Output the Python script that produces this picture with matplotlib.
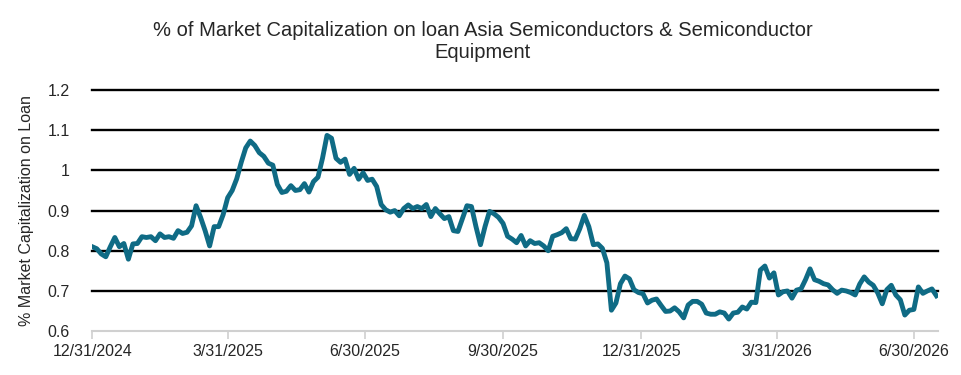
import numpy as np
import pandas as pd
import matplotlib
matplotlib.use("Agg")
import matplotlib.pyplot as plt
import matplotlib.dates as mdates

plt.rcParams['font.family'] = ['Liberation Sans Narrow', 'Liberation Sans', 'DejaVu Sans']

# values, one every 3 days from 12/31/2024
dates = pd.date_range('2024-12-31', periods=188, freq='3D')
values = [
    0.810, 0.805, 0.792, 0.785, 0.810, 0.833, 0.810, 0.818, 0.779, 0.817,
    0.818, 0.835, 0.833, 0.835, 0.825, 0.842, 0.833, 0.835, 0.831, 0.850,
    0.843, 0.846, 0.862, 0.912, 0.883, 0.850, 0.812, 0.860, 0.860, 0.890,
    0.932, 0.950, 0.979, 1.020, 1.056, 1.073, 1.062, 1.044, 1.035, 1.018,
    1.013, 0.965, 0.945, 0.948, 0.962, 0.950, 0.952, 0.967, 0.946, 0.972,
    0.983, 1.030, 1.087, 1.080, 1.030, 1.020, 1.028, 0.990, 1.005, 0.978,
    0.994, 0.975, 0.978, 0.960, 0.915, 0.902, 0.896, 0.900, 0.887, 0.905,
    0.914, 0.905, 0.910, 0.905, 0.915, 0.885, 0.905, 0.892, 0.880, 0.885,
    0.850, 0.848, 0.880, 0.912, 0.910, 0.860, 0.815, 0.860, 0.898, 0.892,
    0.883, 0.868, 0.836, 0.829, 0.820, 0.838, 0.812, 0.825, 0.818, 0.820,
    0.812, 0.800, 0.836, 0.840, 0.845, 0.855, 0.830, 0.829, 0.855, 0.888,
    0.860, 0.815, 0.817, 0.806, 0.770, 0.652, 0.670, 0.718, 0.737, 0.730,
    0.703, 0.696, 0.693, 0.670, 0.677, 0.680, 0.664, 0.649, 0.650, 0.658,
    0.648, 0.633, 0.665, 0.674, 0.674, 0.667, 0.645, 0.642, 0.642, 0.648,
    0.645, 0.630, 0.645, 0.647, 0.660, 0.655, 0.672, 0.671, 0.752, 0.762,
    0.732, 0.745, 0.690, 0.698, 0.700, 0.682, 0.702, 0.705, 0.728, 0.755,
    0.728, 0.724, 0.718, 0.715, 0.703, 0.694, 0.702, 0.700, 0.696, 0.690,
    0.717, 0.735, 0.722, 0.714, 0.695, 0.668, 0.703, 0.714, 0.690, 0.678,
    0.640, 0.652, 0.654, 0.710, 0.694, 0.700, 0.705, 0.688,
]
tick_dates = pd.to_datetime(['2024-12-31', '2025-03-31', '2025-06-30', '2025-09-30',
                             '2025-12-31', '2026-03-31', '2026-06-30'])
yticks = [0.6, 0.7, 0.8, 0.9, 1.0, 1.1, 1.2]
ytick_labels = ['0.6', '0.7', '0.8', '0.9', '1', '1.1', '1.2']

title = "% of Market Capitalization on loan Asia Semiconductors & Semiconductor\nEquipment"
ylabel = "% Market Capitalization on Loan"

txt = '#262626'
fig = plt.figure(figsize=(9.61, 3.75), dpi=100)
ax = fig.add_axes([0.096, 0.117, 0.880, 0.643])

ax.plot(dates, values, color='#0f6b85', lw=3.5, solid_joinstyle='round', zorder=3)

ax.set_xlim(pd.Timestamp('2024-12-31'), pd.Timestamp('2026-07-16'))
ax.set_ylim(0.6, 1.2)
ax.set_yticks(yticks)
ax.set_yticklabels(ytick_labels)
ax.set_xticks(tick_dates)
ax.set_xticklabels([d.strftime('%-m/%-d/%Y') for d in tick_dates])

# black gridlines, top one drawn past the axes edge so it is not clipped
for y in yticks[1:]:
    ax.axhline(y, color='black', lw=1.7, zorder=1, clip_on=False)

for s in ['left', 'right', 'top']:
    ax.spines[s].set_visible(False)
ax.spines['bottom'].set_color('#d0d0d0')
ax.spines['bottom'].set_linewidth(1.5)
ax.tick_params(axis='x', length=6, width=1.2, color='#d0d0d0', labelsize=11.5,
               labelcolor=txt, pad=3)
ax.tick_params(axis='y', length=0, labelsize=11.5, labelcolor=txt, pad=16)

ax.set_ylabel(ylabel, fontsize=11.5, color=txt, labelpad=10)
fig.text(0.502, 0.888, title, ha='center', va='center', fontsize=14.5,
         color=txt, linespacing=1.2)

fig.savefig('out.png', dpi=100)
